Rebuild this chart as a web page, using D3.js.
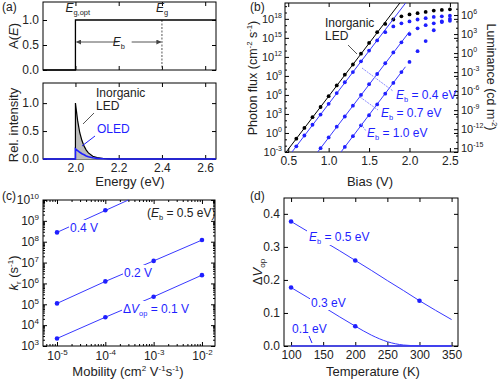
<!DOCTYPE html>
<html>
<head>
<meta charset="utf-8">
<script src="https://cdn.jsdelivr.net/npm/d3@7"></script>
<style>
  body { margin: 0; background: #fff; }
  svg { font-family: "Liberation Sans", Arial, sans-serif; }
  .tick text { font-size: 12px; fill: #222; }
</style>
</head>
<body>
<svg id="fig" width="500" height="379"></svg>
<script>

// ---- data ----

// (a) absorption step and emission spectra
const absEnergy = [1.85, 2.0, 2.0, 2.65]
const absValue = [0, 0, 1, 1]
const specEnergy = [1.85, 2.0, 2.0, 2.01, 2.02, 2.03, 2.04, 2.05, 2.06, 2.08, 2.10, 2.13, 2.16, 2.20, 2.65]
const specInorganic = [0, 0, 1.0, 0.69, 0.47, 0.33, 0.23, 0.16, 0.11, 0.05, 0.025, 0.009, 0.003, 0, 0]
const specOled = [0, 0, 0.18, 0.15, 0.12, 0.095, 0.075, 0.055, 0.04, 0.022, 0.012, 0.004, 0.001, 0, 0]
const energyTicks = [2.0, 2.2, 2.4, 2.6]

// (b) photon flux (log10, cm-2 s-1) vs bias
const biasV = [0.6, 0.7, 0.8, 0.9, 1.0, 1.1, 1.2, 1.3, 1.4, 1.5, 1.6, 1.7, 1.8, 1.9, 2.0, 2.1, 2.2, 2.3, 2.4, 2.5]
const logFluxInorganic = [-0.9, 0.8, 2.5, 4.1, 5.8, 7.5, 9.2, 10.8, 12.5, 14.2, 15.9, 17.2, 17.9, 18.4, 18.7, 18.9, 19.1, 19.3, 19.4, 19.5]
const logFluxEb04 = [-2.1, -0.4, 1.3, 2.9, 4.6, 6.3, 8.0, 9.6, 11.3, 13.0, 14.6, 15.9, 16.8, 17.3, 17.6, 17.9, 18.1, 18.3, 18.4, 18.5]
const logFluxEb07 = [null, null, null, -2.4, -0.7, 1.0, 2.6, 4.3, 6.0, 7.7, 9.3, 11.0, 12.7, 14.3, 15.6, 16.5, 17.0, 17.3, 17.5, 17.7]
const logFluxEb10 = [null, null, null, null, null, null, -2.2, -0.5, 1.2, 2.8, 4.5, 6.2, 7.9, 9.6, 11.2, 12.9, 14.5, 16.2, 17.6, 18.0]
const biasLineEnd = [2.0, 2.0, 2.0, 1.95]
const biasTicks = [0.5, 1.0, 1.5, 2.0, 2.5]
const fluxTickExp = [-3, 0, 3, 6, 9, 12, 15, 18]
const lumTickExp = [-15, -12, -9, -6, -3, 0, 3, 6]
const fluxToLum = -12.6   // log10 offset between the two axes

// (c) radiative rate vs mobility, Eb = 0.5 eV
const mobility = [1e-5, 1e-4, 1e-3, 1e-2]
const kr04 = [2.8e8, 3.2e9, null, null]
const kr02 = [1.1e5, 1.25e6, 1.2e7, 1.2e8]
const kr01 = [2.3e3, 2.4e4, 2.3e5, 2.5e6]
const kr04LineEnd = [3e-4, 1e10]
const mobilityTickExp = [-5, -4, -3, -2]
const krTickExp = [3, 4, 5, 6, 7, 8, 9, 10]

// (d) delta V_op vs temperature
const tempMarks = [100, 200, 300]
const dvEb05Marks = [0.377, 0.259, 0.137]
const tempLine = [100, 125, 150, 175, 200, 225, 250, 275, 300, 325, 350]
const dvEb05Line = [0.377, 0.348, 0.318, 0.289, 0.259, 0.229, 0.198, 0.168, 0.137, 0.108, 0.080]
const dvEb03Marks = [0.177, 0.060]
const dvEb03Line = [0.177, 0.148, 0.119, 0.089, 0.060, 0.033, 0.013, 0.003, 0.0005, 0, 0]
const dvEb01Line = [0, 0, 0, 0, 0, 0, 0, 0, 0, 0, 0]
const tempTicks = [100, 150, 200, 250, 300, 350]
const dvTicks = [0.0, 0.1, 0.2, 0.3, 0.4]

// ---- drawing ----

const blue = '#1f1fff'
const lineBlue = '#3838ff'
const svg = d3.select('#fig')
svg.append('rect').attr('width', 500).attr('height', 379).attr('fill', '#fff')

function frame (x, y) {
    const [x0, x1] = x.range()
    const [y0, y1] = y.range()
    svg.append('rect')
        .attr('x', x0).attr('y', y1)
        .attr('width', x1 - x0).attr('height', y0 - y1)
        .attr('fill', 'none').attr('stroke', '#000').attr('stroke-width', 1)
}

// inward ticks on all four sides; labels on left and bottom
function axes (x, y, opt) {
    const [x0, x1] = x.range()
    const [y0, y1] = y.range()
    const size = opt.size || 4
    const mk = (axis, tx, ty, vals, fmt, s) => {
        const a = axis.tickValues(vals).tickSize(-s).tickPadding(opt.pad || 4)
        if (fmt) a.tickFormat(fmt); else a.tickFormat('')
        const g = svg.append('g').attr('transform', `translate(${tx},${ty})`).call(a)
        g.select('.domain').remove()
        g.selectAll('line').attr('stroke', '#000')
        return g
    }
    const xb = mk(d3.axisBottom(x), 0, y0, opt.xt, opt.xf, size)
    mk(d3.axisTop(x), 0, y1, opt.xt, null, size)
    const yl = mk(d3.axisLeft(y), x0, 0, opt.yt, opt.yf, size)
    mk(d3.axisRight(y), x1, 0, opt.yt, null, size)
    if (opt.xminor) {
        mk(d3.axisBottom(x), 0, y0, opt.xminor, null, 2)
        mk(d3.axisTop(x), 0, y1, opt.xminor, null, 2)
    }
    if (opt.yminor) {
        mk(d3.axisLeft(y), x0, 0, opt.yminor, null, 2)
        if (!opt.noRightMinor) mk(d3.axisRight(y), x1, 0, opt.yminor, null, 2)
    }
    return { xb, yl }
}

function powLabel (sel, sup, size = 12) {
    sel.each(function () {
        const t = d3.select(this)
        const e = t.datum()
        t.text(null).style('font-size', size + 'px')
        t.append('tspan').text('10')
        t.append('tspan').attr('dy', -5).attr('font-size', Math.round(size * 0.66)).text(sup(e))
    })
}

function label (x, y, text, o = {}) {
    const t = svg.append('text').attr('x', x).attr('y', y)
        .attr('font-size', o.size || 13).attr('fill', o.fill || '#222')
        .attr('text-anchor', o.anchor || 'middle')
    if (o.rotate) t.attr('transform', `rotate(${o.rotate},${x},${y})`)
    return t.text(text)
}

// text with sub/superscript parts, e.g. E_b
function subText (x, y, parts, o = {}) {
    const fs = o.size || 12
    const t = svg.append('text').attr('x', x).attr('y', y)
        .attr('font-size', fs).attr('fill', o.fill || '#222')
        .attr('text-anchor', o.anchor || 'start')
    if (o.rotate) t.attr('transform', `rotate(${o.rotate},${x},${y})`)
    parts.forEach(p => {
        const s = t.append('tspan').text(p.t)
        if (p.i) s.attr('font-style', 'italic')
        if (p.sub) s.attr('font-size', fs * 0.62).attr('dy', 3)
        if (p.sup) s.attr('font-size', fs * 0.62).attr('dy', -5)
        if (p.up) s.attr('dy', -3)
        if (p.down) s.attr('dy', 5)
    })
    return t
}

const fmt1 = d3.format('.1f')

// ---------- panel (a) top ----------
{
    const x = d3.scaleLinear().domain([1.85, 2.65]).range([43, 216])
    const y = d3.scaleLinear().domain([0, 1.36]).range([70, 2])
    frame(x, y)
    axes(x, y, { xt: energyTicks, yt: [0, 0.5, 1.0], yf: fmt1 })
    svg.append('line').attr('x1', x(2.4)).attr('x2', x(2.4)).attr('y1', y(1)).attr('y2', y(0))
        .attr('stroke', '#555').attr('stroke-dasharray', '2,1.5')
    const pts = absEnergy.map((e, i) => [e, absValue[i]])
    svg.append('path').attr('d', d3.line().x(d => x(d[0])).y(d => y(d[1]))(pts))
        .attr('fill', 'none').attr('stroke', '#000').attr('stroke-width', 1.3)
    // E_b arrow
    const ay = y(0.56)
    const defs = svg.append('defs')
    defs.append('marker').attr('id', 'ah').attr('viewBox', '0 0 10 10').attr('refX', 9).attr('refY', 5)
        .attr('markerWidth', 5).attr('markerHeight', 5).attr('orient', 'auto-start-reverse')
        .append('path').attr('d', 'M0,0 L10,5 L0,10 z').attr('fill', '#444')
    svg.append('line').attr('x1', x(2.005)).attr('x2', x(2.195)).attr('y1', ay).attr('y2', ay)
        .attr('stroke', '#555').attr('marker-start', 'url(#ah)')
    svg.append('line').attr('x1', x(2.26)).attr('x2', x(2.395)).attr('y1', ay).attr('y2', ay)
        .attr('stroke', '#555').attr('marker-end', 'url(#ah)')
    subText(x(2.2) - 6, ay + 4, [{ t: 'E', i: true }, { t: 'b', sub: true }], { size: 12 })
    subText(x(2.0) - 10, 12, [{ t: 'E', i: true }, { t: 'g,opt', sub: true }], { size: 12 })
    subText(x(2.4) - 6, 12, [{ t: 'E', i: true }, { t: 'g', sub: true }], { size: 12 })
    subText(18, 36, [{ t: 'A(' }, { t: 'E', i: true }, { t: ')' }], { size: 13, anchor: 'middle', rotate: -90 })
    label(2, 11, '(a)', { size: 12, anchor: 'start' })
}

// ---------- panel (a) bottom ----------
{
    const x = d3.scaleLinear().domain([1.85, 2.65]).range([43, 216])
    const y = d3.scaleLinear().domain([0, 1.36]).range([159, 83])
    frame(x, y)
    axes(x, y, { xt: energyTicks, xf: fmt1, yt: [0, 0.5, 1.0], yf: fmt1 })
    const inorg = specEnergy.map((e, i) => [e, specInorganic[i]])
    const oled = specEnergy.map((e, i) => [e, specOled[i]])
    svg.append('path').attr('d', d3.area().x(d => x(d[0])).y0(y(0)).y1(d => y(d[1]))(inorg))
        .attr('fill', '#bdbdbd')
    svg.append('path').attr('d', d3.line().x(d => x(d[0])).y(d => y(d[1]))(inorg))
        .attr('fill', 'none').attr('stroke', '#000').attr('stroke-width', 1.2)
    svg.append('path').attr('d', d3.line().x(d => x(d[0])).y(d => y(d[1]))(oled))
        .attr('fill', 'none').attr('stroke', blue).attr('stroke-width', 1.6)
    label(96, 97, 'Inorganic', { size: 12, anchor: 'start' })
    label(96, 110, 'LED', { size: 12, anchor: 'start' })
    svg.append('line').attr('x1', 83).attr('y1', 124).attr('x2', 94).attr('y2', 113).attr('stroke', '#555')
    label(97, 133, 'OLED', { size: 12, anchor: 'start', fill: blue })
    svg.append('line').attr('x1', 82).attr('y1', 146).attr('x2', 95).attr('y2', 136).attr('stroke', blue)
    label(130, 186, 'Energy (eV)', { size: 13 })
    label(18, 125, 'Rel. intensity', { size: 13, rotate: -90 })
}

// ---------- panel (b) ----------
{
    const x = d3.scaleLinear().domain([0.46, 2.6]).range([285, 458])
    const y = d3.scaleLinear().domain([-3, 20.5]).range([152, 3])
    const yLum = d3.scaleLinear().domain([-3 + fluxToLum, 20.5 + fluxToLum]).range([152, 3])
    frame(x, y)
    const minorFlux = d3.range(-3, 21).filter(e => !fluxTickExp.includes(e))
    const ax = axes(x, y, { xt: biasTicks, xf: fmt1, yt: fluxTickExp, yf: d => d, yminor: minorFlux,
        noRightMinor: true, pad: 3 })
    ax.xb.selectAll('text').attr('dy', '0.85em')
    powLabel(ax.yl.selectAll('text'), e => e, 11)
    // right luminance axis
    const lumMinor = d3.range(-15, 8).filter(e => !lumTickExp.includes(e))
    const rg = svg.append('g').attr('transform', 'translate(458,0)')
        .call(d3.axisRight(yLum).tickValues(lumTickExp).tickSize(-4).tickPadding(3))
    rg.select('.domain').remove()
    powLabel(rg.selectAll('text'), e => e, 11)
    const rm = svg.append('g').attr('transform', 'translate(458,0)')
        .call(d3.axisRight(yLum).tickValues(lumMinor).tickSize(-2).tickFormat(''))
    rm.select('.domain').remove()

    svg.append('clipPath').attr('id', 'clipb').append('rect')
        .attr('x', 285).attr('y', 3).attr('width', 173).attr('height', 149)
    const g = svg.append('g').attr('clip-path', 'url(#clipb)')

    const series = [
        { v: logFluxInorganic, c: '#000' },
        { v: logFluxEb04, c: blue },
        { v: logFluxEb07, c: blue },
        { v: logFluxEb10, c: blue }
    ]
    series.forEach((s, k) => {
        const pts = biasV.map((b, i) => [b, s.v[i]]).filter(d => d[1] !== null)
        // straight line through the low-bias points, before the roll-off
        const a = pts[0], b = pts[7]
        const slope = (b[1] - a[1]) / (b[0] - a[0])
        const xs = [0.4, biasLineEnd[k]]
        g.append('line')
            .attr('x1', x(xs[0])).attr('y1', y(a[1] + slope * (xs[0] - a[0])))
            .attr('x2', x(xs[1])).attr('y2', y(a[1] + slope * (xs[1] - a[0])))
            .attr('stroke', k === 0 ? '#000' : lineBlue).attr('stroke-width', 1)
        g.selectAll(null).data(pts).enter().append('circle')
            .attr('cx', d => x(d[0])).attr('cy', d => y(d[1])).attr('r', 1.9)
            .attr('fill', s.c)
    })

    label(325, 27, 'Inorganic', { size: 12, anchor: 'start' })
    label(325, 40, 'LED', { size: 12, anchor: 'start' })
    svg.append('line').attr('x1', 348).attr('y1', 45).attr('x2', 357).attr('y2', 54).attr('stroke', '#555')

    const lead = (x1, y1, x2, y2) => svg.append('line').attr('x1', x1).attr('y1', y1).attr('x2', x2).attr('y2', y2)
        .attr('stroke', '#8c8cff').attr('stroke-dasharray', '2,1')
    lead(362, 68, 393, 91)
    lead(360, 97, 378, 110)
    lead(361, 124, 366, 131)
    subText(396, 99, [{ t: 'E', i: true }, { t: 'b', sub: true }, { t: ' = 0.4 eV', up: true }], { size: 12, fill: blue })
    subText(381, 117, [{ t: 'E', i: true }, { t: 'b', sub: true }, { t: ' = 0.7 eV', up: true }], { size: 12, fill: blue })
    subText(367, 137, [{ t: 'E', i: true }, { t: 'b', sub: true }, { t: ' = 1.0 eV', up: true }], { size: 12, fill: blue })

    label(370, 186, 'Bias (V)', { size: 13 })
    subText(257, 78, [{ t: 'Photon flux (cm' }, { t: '-2', sup: true }, { t: ' s', down: true }, { t: '-1', sup: true }, { t: ')', down: true }],
        { size: 12.5, anchor: 'middle', rotate: -90 })
    subText(487, 77, [{ t: 'Luminance (cd m' }, { t: '-2', sup: true }, { t: ')', down: true }],
        { size: 12.5, anchor: 'middle', rotate: 90 })
    label(250, 11, '(b)', { size: 12, anchor: 'start' })
}

// ---------- panel (c) ----------
{
    const x = d3.scaleLog().domain([10 ** -5.29, 10 ** -1.73]).range([43, 215])
    const y = d3.scaleLog().domain([1e3, 1e10]).range([346, 200])
    frame(x, y)
    const xMajor = mobilityTickExp.map(e => 10 ** e)
    const xMinor = []
    for (let e = -6; e <= -2; e++) for (let m = 2; m <= 9; m++) {
        const v = m * 10 ** e
        if (v > x.domain()[0] && v < x.domain()[1]) xMinor.push(v)
    }
    const yMinor = []
    for (let e = 3; e < 10; e++) for (let m = 2; m <= 9; m++) yMinor.push(m * 10 ** e)
    const ax = axes(x, y, { xt: xMajor, xf: d => d, yt: krTickExp.map(e => 10 ** e), yf: d => d,
        xminor: xMinor, yminor: yMinor })
    ax.xb.selectAll('text').attr('dy', '0.85em')
    powLabel(ax.xb.selectAll('text'), d => Math.round(Math.log10(d)), 12)
    powLabel(ax.yl.selectAll('text'), d => Math.round(Math.log10(d)), 12)

    const line = d3.line().x(d => x(d[0])).y(d => y(d[1]))
    const set = (vals) => mobility.map((m, i) => [m, vals[i]]).filter(d => d[1] !== null)
    const p04 = set(kr04), p02 = set(kr02), p01 = set(kr01)
    svg.append('path').attr('d', line([p04[0], kr04LineEnd])).attr('stroke', lineBlue).attr('fill', 'none')
    svg.append('path').attr('d', line(p02)).attr('stroke', lineBlue).attr('fill', 'none')
    svg.append('path').attr('d', line(p01)).attr('stroke', lineBlue).attr('fill', 'none')
    ;[p04, p02, p01].forEach(p => {
        svg.selectAll(null).data(p).enter().append('circle')
            .attr('cx', d => x(d[0])).attr('cy', d => y(d[1])).attr('r', 2.3).attr('fill', blue)
    })
    const knock = (x0, y0, w, h) => svg.append('rect').attr('x', x0).attr('y', y0).attr('width', w).attr('height', h).attr('fill', '#fff')
    knock(69, 220, 26, 15)
    label(70, 232, '0.4 V', { size: 12, anchor: 'start', fill: blue })
    knock(123, 265, 27, 15)
    label(124, 277, '0.2 V', { size: 12, anchor: 'start', fill: blue })
    knock(122, 301, 64, 16)
    subText(123, 313, [{ t: 'Δ' }, { t: 'V', i: true }, { t: 'op', sub: true }, { t: ' = 0.1 V', up: true }], { size: 12, fill: blue })
    subText(147, 217, [{ t: '(' }, { t: 'E', i: true }, { t: 'b', sub: true }, { t: ' = 0.5 eV)', up: true }], { size: 12 })

    subText(128, 376, [{ t: 'Mobility (cm' }, { t: '2', sup: true }, { t: ' V', down: true }, { t: '-1', sup: true },
        { t: 's', down: true }, { t: '-1', sup: true }, { t: ')', down: true }], { size: 13, anchor: 'middle' })
    subText(18, 273, [{ t: 'k', i: true }, { t: 'r', sub: true }, { t: ' (s', up: true }, { t: '-1', sup: true }, { t: ')', down: true }],
        { size: 13, anchor: 'middle', rotate: -90 })
    label(2, 200, '(c)', { size: 12, anchor: 'start' })
}

// ---------- panel (d) ----------
{
    const x = d3.scaleLinear().domain([89, 360]).range([284, 458])
    const y = d3.scaleLinear().domain([0, 0.448]).range([346, 198])
    frame(x, y)
    axes(x, y, { xt: tempTicks, xf: d => d, yt: dvTicks, yf: fmt1 })
    const line = d3.line().curve(d3.curveMonotoneX).x(d => x(d[0])).y(d => y(d[1]))
    const pair = v => tempLine.map((t, i) => [t, v[i]])
    svg.append('path').attr('d', line(pair(dvEb01Line))).attr('stroke', lineBlue).attr('stroke-width', 1.6).attr('fill', 'none')
    svg.append('path').attr('d', line(pair(dvEb03Line))).attr('stroke', lineBlue).attr('fill', 'none')
    svg.append('path').attr('d', line(pair(dvEb05Line))).attr('stroke', lineBlue).attr('fill', 'none')
    const marks = [tempMarks.map((t, i) => [t, dvEb05Marks[i]]), tempMarks.slice(0, 2).map((t, i) => [t, dvEb03Marks[i]])]
    marks.forEach(p => svg.selectAll(null).data(p).enter().append('circle')
        .attr('cx', d => x(d[0])).attr('cy', d => y(d[1])).attr('r', 2.3).attr('fill', blue))
    const knock = (x0, y0, w, h) => svg.append('rect').attr('x', x0).attr('y', y0).attr('width', w).attr('height', h).attr('fill', '#fff')
    knock(307, 229, 58, 16)
    subText(309, 241, [{ t: 'E', i: true }, { t: 'b', sub: true }, { t: ' = 0.5 eV', up: true }], { size: 12, fill: blue })
    knock(310, 296, 34, 14)
    label(311, 307, '0.3 eV', { size: 12, anchor: 'start', fill: blue })
    label(292, 333, '0.1 eV', { size: 12, anchor: 'start', fill: blue })
    svg.append('line').attr('x1', 309).attr('y1', 336).attr('x2', 312).attr('y2', 343).attr('stroke', blue)
    label(373, 376, 'Temperature (K)', { size: 13 })
    subText(262, 272, [{ t: 'Δ' }, { t: 'V', i: true }, { t: 'op', sub: true }], { size: 13, anchor: 'middle', rotate: -90 })
    label(250, 200, '(d)', { size: 12, anchor: 'start' })
}
</script>
</body>
</html>
